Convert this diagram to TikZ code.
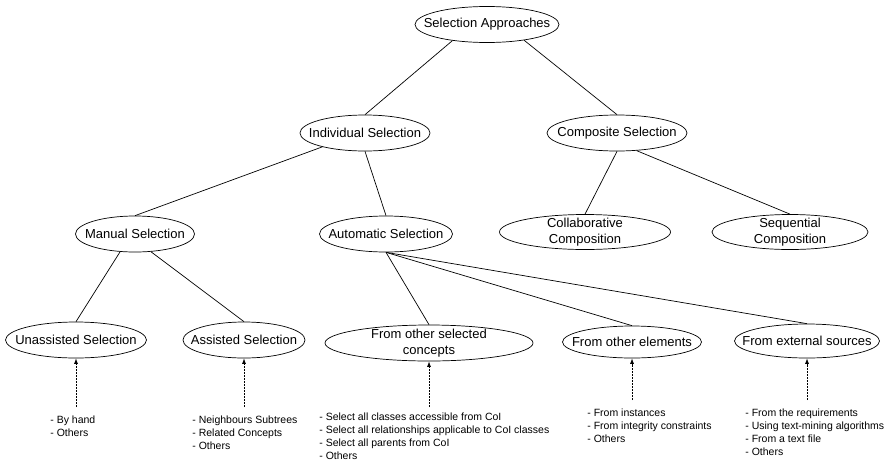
\documentclass[tikz,border=0pt]{standalone}
\usepackage{fontspec}
\setmainfont{Liberation Sans}
\usetikzlibrary{arrows.meta}
\usepgflibrary{shapes.geometric}

\begin{document}
\begin{tikzpicture}[x=1pt, y=-1pt, line width=0.7pt,
      oval/.style={draw, ellipse, inner xsep=-30pt, inner ysep=-8pt, minimum height=36pt,
                   align=center, font=\fontsize{13}{15.5}\selectfont},
      notes/.style={anchor=north west, inner sep=0pt, align=left,
                    font=\fontsize{10.5}{13}\selectfont},
      hint/.style={dash pattern=on 2pt off 1pt, -{Latex[length=5.5pt,width=4pt]}}]
              \useasboundingbox (0,0) rectangle (890,461);
              % ellipses
              \node[oval, minimum width=144pt] (approaches) at (487,24.5) {Selection Approaches};
              \node[oval, minimum width=130pt] (individual) at (365,133) {Individual Selection};
              \node[oval, minimum width=140pt] (composite) at (617,133) {Composite Selection};
              \node[oval, minimum width=119pt] (manual) at (135,234) {Manual Selection};
              \node[oval, minimum width=133pt] (automatic) at (386,234) {Automatic Selection};
              \node[oval, minimum width=171pt, minimum height=35pt] (collab) at (585,232) {Collaborative\\Composition};
              \node[oval, minimum width=156pt, minimum height=35pt] (sequential) at (790,232) {Sequential\\Composition};
              \node[oval, minimum width=141pt] (unassisted) at (76,340) {Unassisted Selection};
              \node[oval, minimum width=122pt] (assisted) at (244,340) {Assisted Selection};
              \node[oval, minimum width=208pt] (concepts) at (429,343) {From other selected\\concepts};
              \node[oval, minimum width=139pt, minimum height=32pt] (elements) at (632,342) {From other elements};
              \node[oval, minimum width=145pt, minimum height=34pt] (external) at (807,341) {From external sources};
              % tree
              \draw (approaches.205) -- (individual.north);
              \draw (approaches.337) -- (composite.north);
              \draw (individual.198) -- (manual.north);
              \draw (individual.south) -- (automatic.north);
              \draw (composite.south) -- (collab.north);
              \draw (composite.318) -- (sequential.north);
              \draw (manual.230) -- (unassisted.north);
              \draw (manual.312) -- (assisted.north);
              \draw (automatic.south) -- (concepts.north);
              \draw (automatic.south) -- (elements.north);
              \draw (automatic.south) -- (external.north);
              % lists
              \node[notes] (byhand) at (50,416) {- By hand\\- Others};
              \node[notes] (neighbours) at (192,416) {- Neighbours Subtrees\\- Related Concepts\\- Others};
              \node[notes] (selectall) at (319,413) {- Select all classes accessible from CoI\\- Select all relationships applicable to CoI classes\\- Select all parents from CoI\\- Others};
              \node[notes] (instances) at (587,409) {- From instances\\- From integrity constraints\\- Others};
              \node[notes] (requirements) at (745,409) {- From the requirements\\- Using text-mining algorithms\\- From a text file\\- Others};
              \draw[hint] ([yshift=9pt]byhand.north -| unassisted.south) -- (unassisted.south);
              \draw[hint] ([yshift=9pt]neighbours.north -| assisted.south) -- (assisted.south);
              \draw[hint] ([yshift=6pt]selectall.north -| concepts.south) -- (concepts.south);
              \draw[hint] ([yshift=9pt]instances.north -| elements.south) -- (elements.south);
              \draw[hint] ([yshift=9pt]requirements.north -| external.south) -- (external.south);
          \end{tikzpicture}
\end{document}
